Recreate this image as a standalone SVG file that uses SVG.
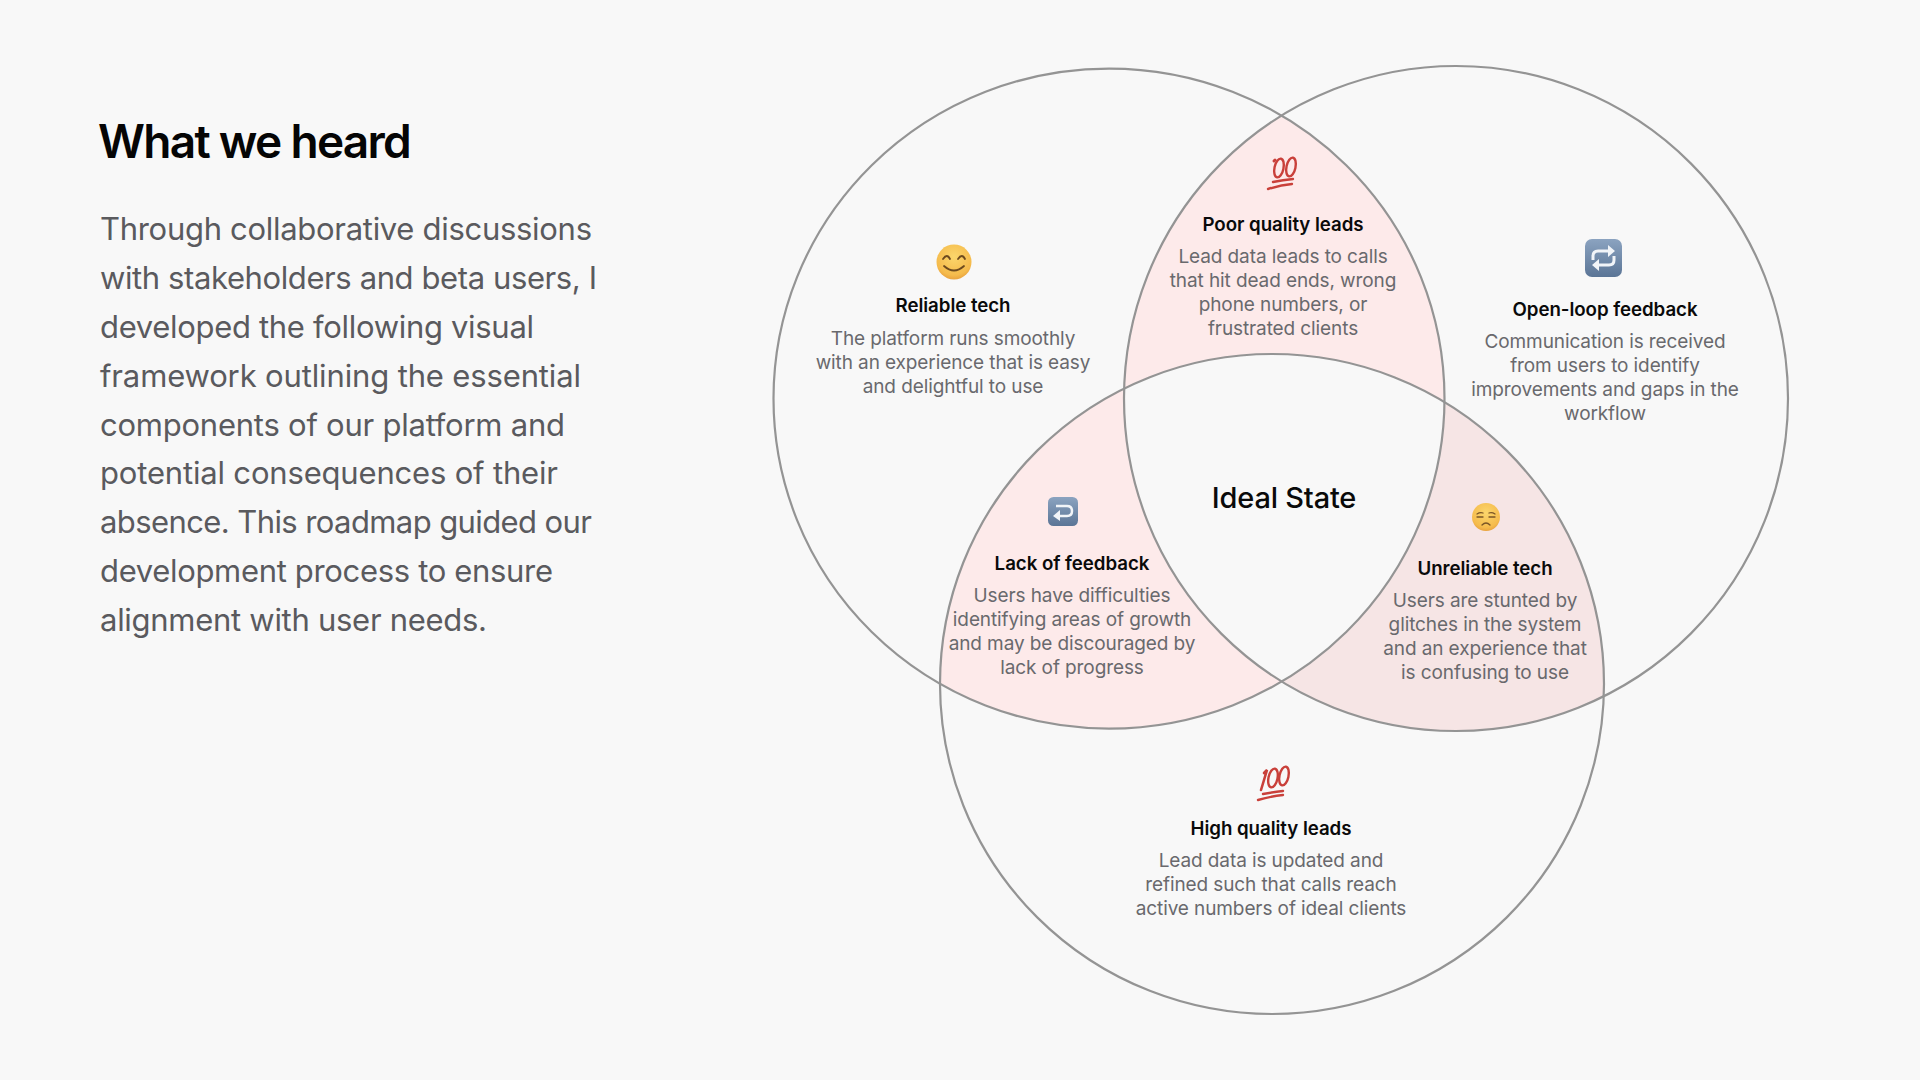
<svg xmlns="http://www.w3.org/2000/svg" width="1920" height="1080" viewBox="0 0 1920 1080">
<style>
text{font-family:Inter,"Liberation Sans",sans-serif}
.title{font-size:46px;font-weight:600;fill:#050505;letter-spacing:-1.7px}
.lead{font-size:31px;fill:#5a5a5e}
.h{font-size:18.7px;font-weight:600;fill:#0a0a0a;text-anchor:middle;letter-spacing:-.05px}
.b{font-size:19px;fill:#69696d;text-anchor:middle;letter-spacing:-.1px}
.ideal{font-size:29px;font-weight:500;fill:#0a0a0a;text-anchor:middle;letter-spacing:-.2px}
.ring{fill:none;stroke:#949494;stroke-width:2.2}
.tick{fill:none;stroke:#c9403a;stroke-linecap:round}
</style>
<defs>
<clipPath id="c1"><ellipse cx="1109" cy="398.6" rx="335.5" ry="330"/></clipPath>
<clipPath id="c2"><ellipse cx="1456" cy="398.5" rx="332" ry="332.5"/></clipPath>
<clipPath id="c3"><ellipse cx="1272" cy="684" rx="332" ry="330"/></clipPath>
<radialGradient id="face" cx=".5" cy=".35" r=".7"><stop offset="0" stop-color="#fbd66c"/><stop offset=".75" stop-color="#f5bb4c"/><stop offset="1" stop-color="#e49a3a"/></radialGradient>
<linearGradient id="key" x1="0" y1="0" x2="0" y2="1"><stop offset="0" stop-color="#8ba3c0"/><stop offset="1" stop-color="#5b7596"/></linearGradient>
</defs>
<rect width="1920" height="1080" fill="#f8f8f8"/>
<g id="regions">
<g clip-path="url(#c1)"><ellipse cx="1456" cy="398.5" rx="332" ry="332.5" fill="#fdeaea"/></g>
<g clip-path="url(#c1)"><ellipse cx="1272" cy="684" rx="332" ry="330" fill="#fdeaea"/></g>
<g clip-path="url(#c2)"><ellipse cx="1272" cy="684" rx="332" ry="330" fill="#f6e5e5"/></g>
<g clip-path="url(#c1)"><g clip-path="url(#c2)"><ellipse cx="1272" cy="684" rx="332" ry="330" fill="#f8f8f8"/></g></g>
</g>
<g id="connectors">
<ellipse class="ring" cx="1109" cy="398.6" rx="335.5" ry="330"/>
<ellipse class="ring" cx="1456" cy="398.5" rx="332" ry="332.5"/>
<ellipse class="ring" cx="1272" cy="684" rx="332" ry="330"/>
</g>
<g id="intro">
<text class="title" x="98" y="158">What we heard</text>
<text class="lead" x="100" y="240" textLength="492">Through collaborative discussions</text>
<text class="lead" x="100" y="289" textLength="497">with stakeholders and beta users, I</text>
<text class="lead" x="100" y="338" textLength="434">developed the following visual</text>
<text class="lead" x="100" y="387" textLength="481">framework outlining the essential</text>
<text class="lead" x="100" y="436" textLength="465">components of our platform and</text>
<text class="lead" x="100" y="484" textLength="458">potential consequences of their</text>
<text class="lead" x="100" y="533" textLength="492">absence. This roadmap guided our</text>
<text class="lead" x="100" y="582" textLength="453">development process to ensure</text>
<text class="lead" x="100" y="631" textLength="387">alignment with user needs.</text>
</g>
<g id="reliable-tech">
<circle cx="954" cy="262" r="17.5" fill="url(#face)"/>
<path d="M943 259q4-6 7 0M958 259q4-6 7 0M944 266q10 9 20 0" fill="none" stroke="#6d4a1e" stroke-width="1.8" stroke-linecap="round"/>
<text class="h" x="953" y="312">Reliable tech</text>
<text class="b" x="953" y="345">The platform runs smoothly</text>
<text class="b" x="953" y="369">with an experience that is easy</text>
<text class="b" x="953" y="393">and delightful to use</text>
</g>
<g id="poor-quality-leads">
<path class="tick" stroke-width="3" d="M1275 160l-1 1"/>
<ellipse class="tick" stroke-width="2.4" cx="1279" cy="168" rx="4.5" ry="9.5" transform="rotate(12 1279 168)"/>
<ellipse class="tick" stroke-width="2.4" cx="1291" cy="167" rx="4.5" ry="9.5" transform="rotate(12 1291 167)"/>
<path class="tick" stroke-width="2.4" d="M1273 182q10-2 20-3M1268 189q13-4 24-5"/>
<text class="h" x="1283" y="231">Poor quality leads</text>
<text class="b" x="1283" y="263">Lead data leads to calls</text>
<text class="b" x="1283" y="287">that hit dead ends, wrong</text>
<text class="b" x="1283" y="311">phone numbers, or</text>
<text class="b" x="1283" y="335">frustrated clients</text>
</g>
<g id="open-loop-feedback">
<rect x="1585" y="239" width="37" height="38" rx="7" fill="url(#key)"/>
<path d="M1593 260v-4q0-5 5-5h11M1614 256v4q0 5-5 5h-11" fill="none" stroke="#f1f4f8" stroke-width="3"/>
<path d="M1608 245l7 6-7 6zM1599 259l-7 6 7 6z" fill="#f1f4f8"/>
<text class="h" x="1605" y="316">Open-loop feedback</text>
<text class="b" x="1605" y="348">Communication is received</text>
<text class="b" x="1605" y="372">from users to identify</text>
<text class="b" x="1605" y="396">improvements and gaps in the</text>
<text class="b" x="1605" y="420">workflow</text>
</g>
<g id="ideal-state">
<text class="ideal" x="1284" y="508">Ideal State</text>
</g>
<g id="lack-of-feedback">
<rect x="1048" y="497" width="30" height="29" rx="5.5" fill="url(#key)"/>
<path d="M1058 516h9q5 0 5-5t-5-5h-11" fill="none" stroke="#f1f4f8" stroke-width="2.5"/>
<path d="M1060 510l-7 6 7 5z" fill="#f1f4f8"/>
<text class="h" x="1072" y="570">Lack of feedback</text>
<text class="b" x="1072" y="602">Users have difficulties</text>
<text class="b" x="1072" y="626">identifying areas of growth</text>
<text class="b" x="1072" y="650">and may be discouraged by</text>
<text class="b" x="1072" y="674">lack of progress</text>
</g>
<g id="unreliable-tech">
<circle cx="1486" cy="517" r="14" fill="url(#face)"/>
<path d="M1477 514q3-2 6-1M1495 514q-3-2-6-1M1477 517h6M1489 517h6M1482 525q4-4 8 0" fill="none" stroke="#7a5526" stroke-width="1.3" stroke-linecap="round"/>
<text class="h" x="1485" y="575">Unreliable tech</text>
<text class="b" x="1485" y="607">Users are stunted by</text>
<text class="b" x="1485" y="631">glitches in the system</text>
<text class="b" x="1485" y="655">and an experience that</text>
<text class="b" x="1485" y="679">is confusing to use</text>
</g>
<g id="high-quality-leads">
<path class="tick" stroke-width="2.6" d="M1264 773l3-3-6 20"/>
<ellipse class="tick" stroke-width="2.4" cx="1273" cy="778" rx="4.5" ry="9.5" transform="rotate(12 1273 778)"/>
<ellipse class="tick" stroke-width="2.4" cx="1284" cy="776" rx="4.5" ry="9.5" transform="rotate(12 1284 776)"/>
<path class="tick" stroke-width="2.4" d="M1263 794q11-2 20-3M1258 800q14-4 25-5"/>
<text class="h" x="1271" y="835">High quality leads</text>
<text class="b" x="1271" y="867">Lead data is updated and</text>
<text class="b" x="1271" y="891">refined such that calls reach</text>
<text class="b" x="1271" y="915">active numbers of ideal clients</text>
</g>
</svg>
